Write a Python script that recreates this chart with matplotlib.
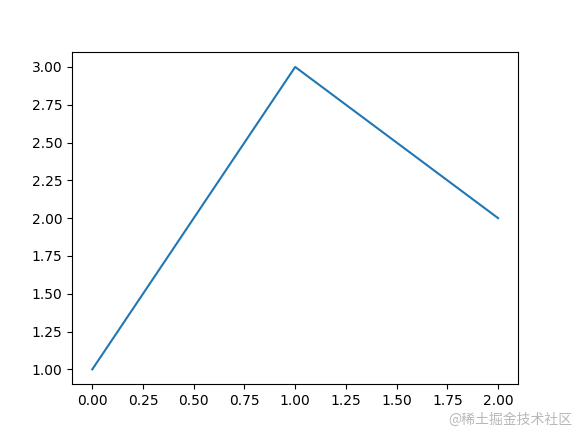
import matplotlib
matplotlib.use("Agg")
import matplotlib.pyplot as plt

x = [0, 1, 2]
y = [1, 3, 2]

fig, ax = plt.subplots(figsize=(5.76, 4.32), dpi=100)
ax.plot(x, y)
fig.text(0.993, 0.012, "@稀土掘金技术社区", ha="right", va="bottom",
         fontsize=10, color="#b8b8b8", family=["Noto Sans CJK SC", "DejaVu Sans"])
fig.savefig("out.png", dpi=100)
